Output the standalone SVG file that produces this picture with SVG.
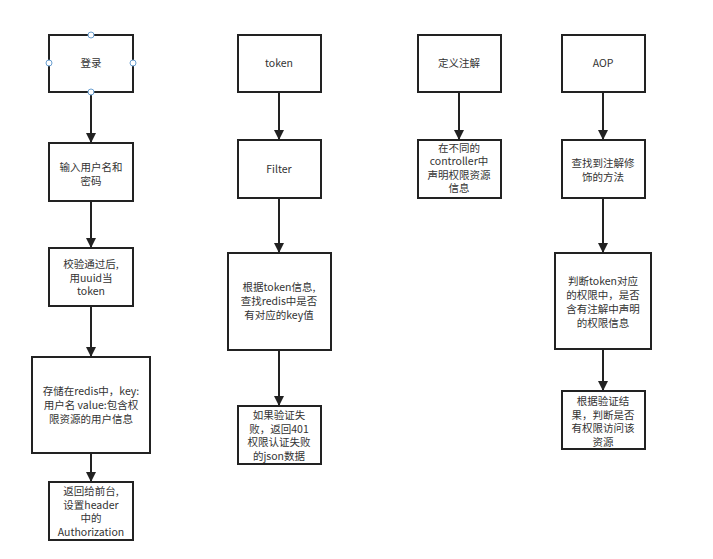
<svg xmlns="http://www.w3.org/2000/svg" width="713" height="559" viewBox="0 0 713 559">
<defs>
<style>
.box{fill:#fff;stroke:#222;stroke-width:2}
.t{font-family:"Noto Sans CJK SC","Liberation Sans",sans-serif;font-size:10.5px;fill:#333;text-anchor:middle}
.c{stroke:#222;stroke-width:2;fill:none}
.h{fill:#fff;stroke:#6a9fd0;stroke-width:1}
</style>
<marker id="ar" viewBox="0 0 10 10" refX="9" refY="5" markerWidth="5" markerHeight="5" orient="auto" markerUnits="strokeWidth">
<path d="M0,0 L10,5 L0,10 z" fill="#222"/>
</marker>
</defs>
<rect width="713" height="559" fill="#fff"/>
<g id="connectors">
<line class="c" x1="91" y1="92" x2="91" y2="142" marker-end="url(#ar)"/>
<line class="c" x1="91" y1="201" x2="91" y2="247" marker-end="url(#ar)"/>
<line class="c" x1="91" y1="306" x2="91" y2="356" marker-end="url(#ar)"/>
<line class="c" x1="91" y1="453" x2="91" y2="481" marker-end="url(#ar)"/>
<line class="c" x1="279" y1="92" x2="279" y2="139" marker-end="url(#ar)"/>
<line class="c" x1="279" y1="198" x2="279" y2="252" marker-end="url(#ar)"/>
<line class="c" x1="279" y1="350" x2="279" y2="405" marker-end="url(#ar)"/>
<line class="c" x1="459" y1="92" x2="459" y2="139" marker-end="url(#ar)"/>
<line class="c" x1="603" y1="92" x2="603" y2="139" marker-end="url(#ar)"/>
<line class="c" x1="603" y1="198" x2="603" y2="252" marker-end="url(#ar)"/>
<line class="c" x1="603" y1="349" x2="603" y2="390" marker-end="url(#ar)"/>
</g>
<g id="n1">
<rect class="box" x="49" y="35" width="84" height="57"/>
<text class="t" x="91" y="67">登录</text>
<circle class="h" cx="49" cy="63" r="3"/>
<circle class="h" cx="133" cy="63" r="3"/>
<circle class="h" cx="91" cy="35" r="3"/>
<circle class="h" cx="91" cy="92" r="3"/>
</g>
<g id="n2">
<rect class="box" x="49" y="143" width="84" height="58"/>
<text class="t" x="91" y="171">输入用户名和</text>
<text class="t" x="91" y="185">密码</text>
</g>
<g id="n3">
<rect class="box" x="49" y="248" width="84" height="58"/>
<text class="t" x="91" y="268">校验通过后,</text>
<text class="t" x="91" y="281.5">用uuid当</text>
<text class="t" x="91" y="295">token</text>
</g>
<g id="n4">
<rect class="box" x="32" y="357" width="118" height="96"/>
<text class="t" x="91" y="395">存储在redis中，key:</text>
<text class="t" x="91" y="409">用户名 value:包含权</text>
<text class="t" x="91" y="423">限资源的用户信息</text>
</g>
<g id="n5">
<rect class="box" x="49" y="482" width="84" height="58"/>
<text class="t" x="91" y="495">返回给前台,</text>
<text class="t" x="91" y="508.5">设置header</text>
<text class="t" x="91" y="522">中的</text>
<text class="t" x="91" y="535.5">Authorization</text>
</g>
<g id="n6">
<rect class="box" x="238" y="35" width="83" height="57"/>
<text class="t" x="279" y="67">token</text>
</g>
<g id="n7">
<rect class="box" x="238" y="140" width="83" height="58"/>
<text class="t" x="279" y="173">Filter</text>
</g>
<g id="n8">
<rect class="box" x="228" y="253" width="103" height="97"/>
<text class="t" x="279" y="291">根据token信息,</text>
<text class="t" x="279" y="305">查找redis中是否</text>
<text class="t" x="279" y="319">有对应的key值</text>
</g>
<g id="n9">
<rect class="box" x="238" y="406" width="83" height="58"/>
<text class="t" x="279" y="419">如果验证失</text>
<text class="t" x="279" y="432.5">败，返回401</text>
<text class="t" x="279" y="446">权限认证失败</text>
<text class="t" x="279" y="459.5">的json数据</text>
</g>
<g id="n10">
<rect class="box" x="418" y="35" width="83" height="57"/>
<text class="t" x="459" y="67">定义注解</text>
</g>
<g id="n11">
<rect class="box" x="418" y="140" width="83" height="58"/>
<text class="t" x="459" y="151.5">在不同的</text>
<text class="t" x="459" y="165">controller中</text>
<text class="t" x="459" y="178.5">声明权限资源</text>
<text class="t" x="459" y="192">信息</text>
</g>
<g id="n12">
<rect class="box" x="562" y="35" width="83" height="57"/>
<text class="t" x="603" y="67">AOP</text>
</g>
<g id="n13">
<rect class="box" x="562" y="140" width="83" height="58"/>
<text class="t" x="603" y="167">查找到注解修</text>
<text class="t" x="603" y="181">饰的方法</text>
</g>
<g id="n14">
<rect class="box" x="555" y="253" width="96" height="96"/>
<text class="t" x="603" y="285">判断token对应</text>
<text class="t" x="603" y="299">的权限中，是否</text>
<text class="t" x="603" y="313">含有注解中声明</text>
<text class="t" x="603" y="327">的权限信息</text>
</g>
<g id="n15">
<rect class="box" x="562" y="391" width="83" height="58"/>
<text class="t" x="603" y="405">根据验证结</text>
<text class="t" x="603" y="418.5">果，判断是否</text>
<text class="t" x="603" y="432">有权限访问该</text>
<text class="t" x="603" y="445.5">资源</text>
</g>
</svg>
